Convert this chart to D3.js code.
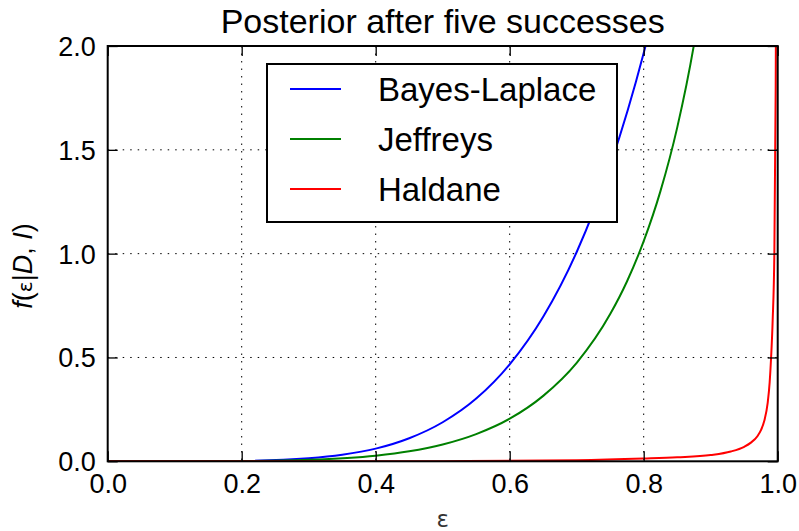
<!DOCTYPE html>
<html>
<head>
<meta charset="utf-8">
<script src="https://cdn.jsdelivr.net/npm/d3@7"></script>
<style>
  body { margin: 0; background: #fff; }
  text { font-family: "Liberation Sans", Arial, sans-serif; fill: #000; }
</style>
</head>
<body>
<script>
// values
const epsilon_bl = [0, 0.1, 0.2, 0.3, 0.35, 0.4, 0.45, 0.5, 0.55, 0.6, 0.65, 0.7, 0.75, 0.8, 0.82];
const bayes_laplace = [0, 0.0001, 0.002, 0.015, 0.032, 0.061, 0.111, 0.188, 0.302, 0.467, 0.696, 1.008, 1.424, 1.966, 2.225];

const epsilon_j = [0, 0.2, 0.3, 0.4, 0.45, 0.5, 0.55, 0.6, 0.65, 0.7, 0.75, 0.775, 0.8, 0.825, 0.85, 0.875, 0.9];
const jeffreys = [0, 0.001, 0.007, 0.027, 0.048, 0.081, 0.131, 0.205, 0.315, 0.474, 0.709, 0.866, 1.06, 1.301, 1.607, 2.006, 2.546];

const epsilon_h = [0, 0.5, 0.7, 0.8, 0.85, 0.9, 0.93, 0.95, 0.96, 0.97, 0.975, 0.98, 0.985, 0.988, 0.99, 0.9925, 0.995, 0.997, 0.9985];
const haldane = [0, 0.0008, 0.005, 0.013, 0.019, 0.03, 0.047, 0.07, 0.09, 0.122, 0.15, 0.195, 0.28, 0.38, 0.49, 0.68, 1.0, 1.8, 3.0];

const series_names = ['Bayes-Laplace', 'Jeffreys', 'Haldane'];
const series_colors = ['#0000ff', '#008000', '#ff0000'];
const x_ticks = [0, 0.2, 0.4, 0.6, 0.8, 1.0];
const y_ticks = [0, 0.5, 1.0, 1.5, 2.0];

const width = 799, height = 531;
const margin = {top: 46, right: 21.3, bottom: 69.7, left: 107.7};
const w = width - margin.left - margin.right;
const h = height - margin.top - margin.bottom;

const svg = d3.select('body').append('svg')
    .attr('width', width)
    .attr('height', height);

const x = d3.scaleLinear().domain([0, 1]).range([0, w]);
const y = d3.scaleLinear().domain([0, 2]).range([h, 0]);

const plot = svg.append('g')
    .attr('transform', `translate(${margin.left},${margin.top})`);

svg.append('defs').append('clipPath').attr('id', 'clip')
    .append('rect').attr('width', w).attr('height', h);

// grid
plot.append('g').selectAll('line.vgrid')
    .data(x_ticks.slice(1, -1))
    .enter().append('line')
    .attr('x1', d => x(d)).attr('x2', d => x(d))
    .attr('y1', 0).attr('y2', h)
    .style('stroke', '#000').style('stroke-width', 1)
    .style('stroke-dasharray', '1.5,6');

plot.append('g').selectAll('line.hgrid')
    .data(y_ticks.slice(1, -1))
    .enter().append('line')
    .attr('x1', 0).attr('x2', w)
    .attr('y1', d => y(d)).attr('y2', d => y(d))
    .style('stroke', '#000').style('stroke-width', 1)
    .style('stroke-dasharray', '1.5,6');

// curves
const line = d3.line()
    .x(d => x(d[0]))
    .y(d => y(d[1]))
    .curve(d3.curveMonotoneX);

const all_series = [
    d3.zip(epsilon_bl, bayes_laplace),
    d3.zip(epsilon_j, jeffreys),
    d3.zip(epsilon_h, haldane)
];

plot.append('g').attr('clip-path', 'url(#clip)')
    .selectAll('path')
    .data(all_series)
    .enter().append('path')
    .attr('d', line)
    .style('fill', 'none')
    .style('stroke', (d, i) => series_colors[i])
    .style('stroke-width', 2);

// axes: inward ticks on all four sides
const tick_len = 10;
const fmt = d3.format('.1f');

const xb = d3.axisBottom(x).tickValues(x_ticks).tickSizeInner(-tick_len).tickSizeOuter(0).tickPadding(13).tickFormat(fmt);
const xt = d3.axisTop(x).tickValues(x_ticks).tickSizeInner(-tick_len).tickSizeOuter(0).tickFormat('');
const yl = d3.axisLeft(y).tickValues(y_ticks).tickSizeInner(-tick_len).tickSizeOuter(0).tickPadding(12).tickFormat(fmt);
const yr = d3.axisRight(y).tickValues(y_ticks).tickSizeInner(-tick_len).tickSizeOuter(0).tickFormat('');

const axes = [
    plot.append('g').attr('transform', `translate(0,${h})`).call(xb),
    plot.append('g').call(xt),
    plot.append('g').call(yl),
    plot.append('g').attr('transform', `translate(${w},0)`).call(yr)
];
axes.forEach(a => {
    a.select('.domain').remove();
    a.selectAll('.tick line').style('stroke', '#000').style('stroke-width', 1.3);
    a.selectAll('.tick text')
        .style('font-family', '"Liberation Sans", Arial, sans-serif')
        .style('font-size', '27px')
        .style('fill', '#000');
});
axes[2].selectAll('.tick text').attr('dy', '0.35em');

// frame
plot.append('rect')
    .attr('width', w).attr('height', h)
    .style('fill', 'none')
    .style('stroke', '#000')
    .style('stroke-width', 2);

// legend
const legend = svg.append('g').attr('transform', 'translate(267,64)');
legend.append('rect')
    .attr('width', 350).attr('height', 158)
    .style('fill', '#fff')
    .style('stroke', '#000')
    .style('stroke-width', 2);

const items = legend.selectAll('g.item')
    .data(series_names)
    .enter().append('g')
    .attr('transform', (d, i) => `translate(0,${25 + i * 50})`);

items.append('line')
    .attr('x1', 23).attr('x2', 74)
    .style('stroke', (d, i) => series_colors[i])
    .style('stroke-width', 2);

items.append('text')
    .attr('x', 111).attr('dy', '0.35em')
    .style('font-size', '33px')
    .text(d => d);

// title and labels
svg.append('text')
    .attr('x', margin.left + w / 2).attr('y', 33)
    .attr('text-anchor', 'middle')
    .style('font-size', '34px')
    .text('Posterior after five successes');

svg.append('text')
    .attr('x', margin.left + w / 2).attr('y', 527)
    .attr('text-anchor', 'middle')
    .style('font-family', '"DejaVu Sans", sans-serif')
    .style('font-size', '23px')
    .style('fill', '#333')
    .text('ε');

const ylab = svg.append('text')
    .attr('transform', 'translate(32,266) rotate(-90)')
    .attr('text-anchor', 'middle')
    .style('font-size', '27px');
ylab.append('tspan').style('font-style', 'italic').text('f');
ylab.append('tspan').text('(');
ylab.append('tspan').style('font-family', '"DejaVu Sans", sans-serif').style('font-size', '20px').text('ε');
ylab.append('tspan').text('|');
ylab.append('tspan').style('font-style', 'italic').text('D');
ylab.append('tspan').text(', ');
ylab.append('tspan').style('font-style', 'italic').text('I');
ylab.append('tspan').text(')');
</script>
</body>
</html>
